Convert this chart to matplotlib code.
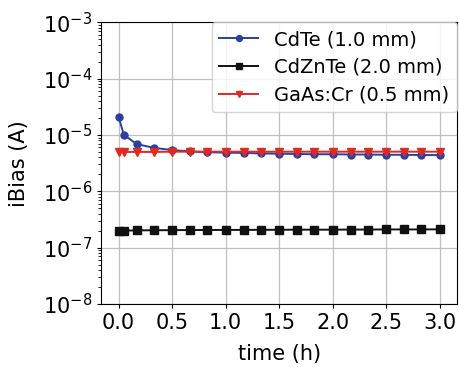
import matplotlib
matplotlib.use("Agg")
import matplotlib.pyplot as plt

# Measurement times (h)
time_h = [0.0, 0.05, 0.17, 0.33, 0.5, 0.67, 0.83, 1.0, 1.17, 1.33,
          1.5, 1.67, 1.83, 2.0, 2.17, 2.33, 2.5, 2.67, 2.83, 3.0]

# Bias current (A) per detector
cdte = [2.1e-5, 1.0e-5, 6.9e-6, 5.9e-6, 5.4e-6, 5.1e-6, 4.95e-6, 4.85e-6,
        4.8e-6, 4.7e-6, 4.65e-6, 4.6e-6, 4.55e-6, 4.55e-6, 4.5e-6, 4.5e-6,
        4.45e-6, 4.45e-6, 4.4e-6, 4.4e-6]
cdznte = [2.0e-7, 2.0e-7, 2.02e-7, 2.03e-7, 2.04e-7, 2.05e-7, 2.05e-7, 2.06e-7,
          2.06e-7, 2.07e-7, 2.07e-7, 2.08e-7, 2.08e-7, 2.08e-7, 2.09e-7, 2.09e-7,
          2.1e-7, 2.1e-7, 2.1e-7, 2.11e-7]
gaas = [5.0e-6, 5.0e-6, 5.0e-6, 5.0e-6, 5.05e-6, 5.05e-6, 5.05e-6, 5.05e-6,
        5.05e-6, 5.05e-6, 5.05e-6, 5.05e-6, 5.05e-6, 5.05e-6, 5.05e-6, 5.05e-6,
        5.05e-6, 5.05e-6, 5.05e-6, 5.05e-6]

labels = ["CdTe (1.0 mm)", "CdZnTe (2.0 mm)", "GaAs:Cr (0.5 mm)"]

plt.rcParams["font.family"] = "DejaVu Sans"
plt.rcParams["font.size"] = 15

fig = plt.figure(figsize=(4.59, 3.67), dpi=100)
ax = fig.add_axes([0.221, 0.172, 0.774, 0.767])

ax.plot(time_h, cdte, "-o", color="#2a3fa3", ms=5, lw=1.4, label=labels[0])
ax.plot(time_h, cdznte, "-s", color="#111111", ms=5.5, lw=1.4, label=labels[1])
ax.plot(time_h, gaas, "-v", color="#e02a20", ms=5.5, lw=1.4, label=labels[2])

ax.set_yscale("log")
ax.set_ylim(1e-8, 1e-3)
ax.set_xlim(-0.16, 3.16)
ax.set_xticks([0.0, 0.5, 1.0, 1.5, 2.0, 2.5, 3.0])
ax.grid(True, which="major", color="#c0c0c0", lw=0.9)
ax.set_axisbelow(True)
ax.tick_params(which="major", length=3, width=0.8)
ax.tick_params(which="minor", length=2, width=0.6)

ax.set_xlabel("time (h)", labelpad=8)
ax.set_ylabel("iBias (A)", labelpad=10)

ax.legend(loc="upper right", fontsize=14, handlelength=2.0,
          borderaxespad=0.0, labelspacing=0.45, borderpad=0.4,
          handletextpad=0.8, markerscale=0.85)

fig.savefig("out.png", dpi=100)
